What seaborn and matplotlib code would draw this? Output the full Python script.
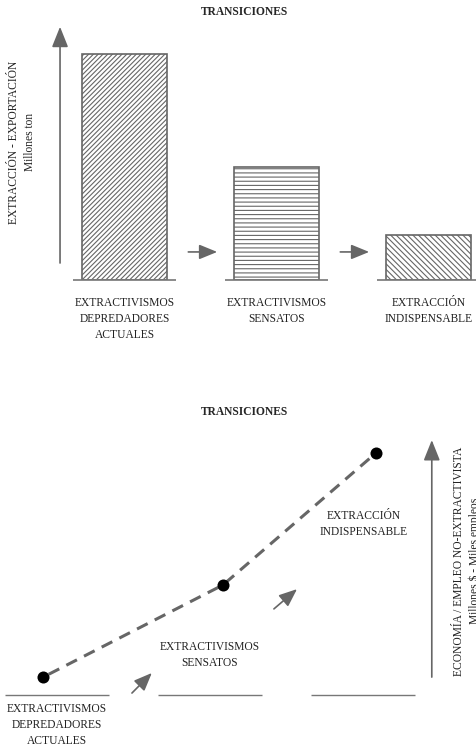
import matplotlib.pyplot as plt
import seaborn as sns
import pandas as pd

# etapas de la transicion
etapas = ["EXTRACTIVISMOS\nDEPREDADORES\nACTUALES",
          "EXTRACTIVISMOS\nSENSATOS",
          "EXTRACCIÓN\nINDISPENSABLE"]
# extraccion - exportacion (relativa, millones ton)
extraccion = [100, 50, 20]
tramas = ["///////", "----", "\\\\\\\\\\\\"]
# economia / empleo no-extractivista (relativo)
empleo_pos = [-0.09, 1.085, 2.085]
empleo = [6.5, 40, 88]

sns.set_style("white")
plt.rcParams["font.family"] = ["Liberation Serif", "DejaVu Serif"]
plt.rcParams["font.size"] = 8.3
plt.rcParams["hatch.linewidth"] = 0.8

GRIS = "#666666"
LINEA = "#777777"
TEXTO = "#222222"

fig = plt.figure(figsize=(4.76, 7.46), dpi=100)

# ---- grafico de barras ----
ax1 = fig.add_axes([0, 0.6247, 1, 0.3485])
df = pd.DataFrame({"etapa": etapas, "extraccion": extraccion})
sns.barplot(data=df, x="etapa", y="extraccion", color="white", width=0.56,
            edgecolor=GRIS, linewidth=1.2, ax=ax1)
for barra, trama in zip(ax1.patches, tramas):
    barra.set_facecolor("white")
    barra.set_edgecolor(GRIS)
    barra.set_hatch(trama)

ax1.set_xlim(-0.819, 2.313)
ax1.set_ylim(0, 115)
for i in range(len(etapas)):
    ax1.hlines(0, i - 0.34, i + 0.34, color=LINEA, lw=1.2, clip_on=False)

ax1.set_xlabel("")
ax1.set_ylabel("")
ax1.set_yticks([])
ax1.tick_params(axis="x", length=0, pad=12, labelsize=8.3, labelcolor=TEXTO)
for t in ax1.get_xticklabels():
    t.set_linespacing(1.45)
sns.despine(ax=ax1, left=True, bottom=True)

ax1.annotate("", xy=(-0.424, 112), xytext=(-0.424, 7.5),
             arrowprops=dict(arrowstyle="-|>,head_length=1.25,head_width=0.5",
                             color=GRIS, lw=1.2, shrinkA=0, shrinkB=0,
                             mutation_scale=10),
             annotation_clip=False)
for i in range(len(etapas) - 1):
    ax1.annotate("", xy=(i + 0.61, 12.4), xytext=(i + 0.42, 12.4),
                 arrowprops=dict(arrowstyle="-|>,head_length=1.1,head_width=0.45",
                                 color=GRIS, lw=1.2, shrinkA=0, shrinkB=0,
                                 mutation_scale=10))
ax1.text(0.046, 0.53, "EXTRACCIÓN - EXPORTACIÓN\nMillones ton", transform=ax1.transAxes,
         rotation=90, ha="center", va="center", linespacing=1.45, color=TEXTO)

fig.text(0.513, 1 - 12 / 746, "TRANSICIONES", weight="bold", ha="center",
         va="center", fontsize=8.3)

# ---- grafico de puntos ----
ax2 = fig.add_axes([0, 0.0684, 1, 0.3686])
sns.lineplot(x=empleo_pos, y=empleo, color=GRIS, lw=2.2, ax=ax2, zorder=2)
# empieza con un hueco para separar la linea del primer punto
ax2.lines[0].set_linestyle((4.5, (3.9, 2.6)))
sns.scatterplot(x=empleo_pos, y=empleo, color="black", s=75, linewidth=0,
                ax=ax2, zorder=3)
ax2.set_xlim(-0.3725, 2.739)
ax2.set_ylim(0, 100)
for i in range(len(etapas)):
    ax2.hlines(0, i - 0.34, i + 0.34, color=LINEA, lw=1.0, clip_on=False)

ax2.text(0, -3.0, etapas[0], ha="center", va="top", linespacing=1.42, color=TEXTO)
ax2.text(1.0, 14.5, etapas[1], ha="center", va="center", linespacing=1.45, color=TEXTO)
ax2.text(2.006, 62.2, etapas[2], ha="center", va="center", linespacing=1.45, color=TEXTO)

for (x0, y0, x1, y1) in [(0.49, 0.7, 0.62, 8), (1.418, 31.3, 1.569, 38.5)]:
    ax2.annotate("", xy=(x1, y1), xytext=(x0, y0),
                 arrowprops=dict(arrowstyle="-|>,head_length=1.1,head_width=0.45",
                                 color=GRIS, lw=1.2, shrinkA=0, shrinkB=0,
                                 mutation_scale=10))
ax2.annotate("", xy=(2.45, 92.7), xytext=(2.45, 6.5),
             arrowprops=dict(arrowstyle="-|>,head_length=1.25,head_width=0.5",
                             color=GRIS, lw=1.2, shrinkA=0, shrinkB=0,
                             mutation_scale=10),
             annotation_clip=False)
ax2.text(2.68, 48.7, "ECONOMÍA / EMPLEO NO-EXTRACTIVISTA\nMillones $ - Miles empleos",
         rotation=90, ha="center", va="center", linespacing=1.45, color=TEXTO)

ax2.set_xticks([])
ax2.set_yticks([])
sns.despine(ax=ax2, left=True, bottom=True)

fig.text(0.513, 1 - 412 / 746, "TRANSICIONES", weight="bold", ha="center",
         va="center", fontsize=8.3)

fig.savefig("out.png", dpi=100)
